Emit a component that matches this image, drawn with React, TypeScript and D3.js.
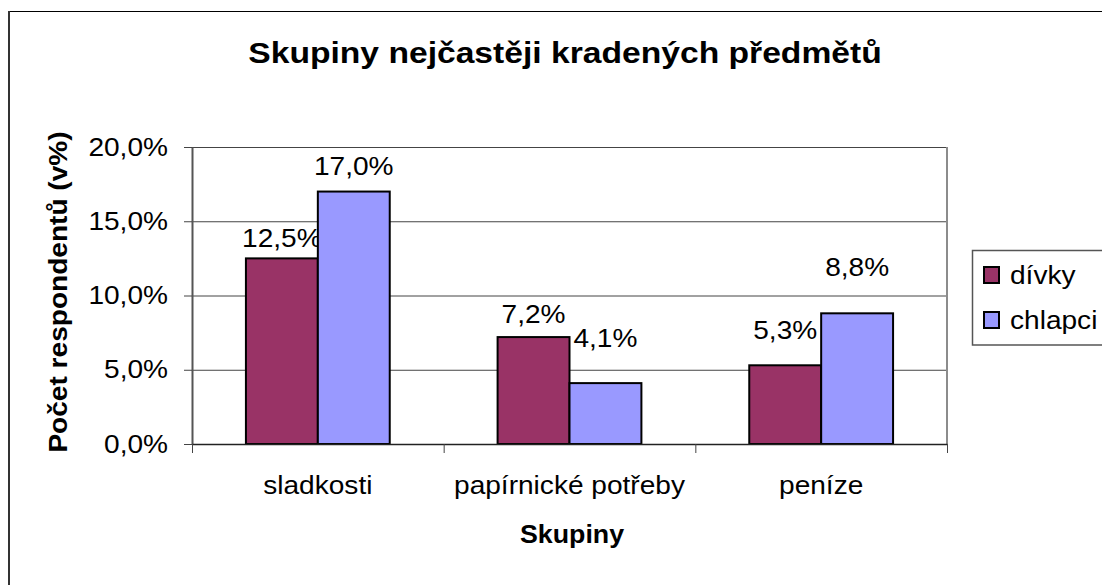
import React from "react";
import * as d3 from "d3";

// data (values in %)
const categories = ["sladkosti", "papírnické potřeby", "peníze"];
const seriesNames = ["dívky", "chlapci"];
const divky = [12.5, 7.2, 5.3];
const chlapci = [17.0, 4.1, 8.8];
const yTicks = [0, 5, 10, 15, 20];

const chartTitle = "Skupiny nejčastěji kradených předmětů";
const xTitle = "Skupiny";
const yTitle = "Počet respondentů (v%)";

const layout = { width: 1102, height: 585, left: 192, right: 947, top: 147, bottom: 444 };
const colors = ["#993366", "#9999ff"];
// data labels were nudged by hand in the original, lift above bar top per bar
const labelLift = [[11, 17], [14, 36], [26, 37]];
const font = "'Liberation Sans', Arial, Helvetica, sans-serif";
// the original text is drawn a bit wider than Arial, stretch along the text
const stretch = 1.08;

const czech = d3.formatLocale({ decimal: ",", thousands: " ", grouping: [3], currency: ["", " Kč"] });
const pct = (v: number) => czech.format(".1f")(v) + "%";

type Sel = d3.Selection<any, any, any, any>;

const label = (parent: Sel, x: number, y: number, str: string, opts: { size?: number; bold?: boolean; anchor?: string; rotate?: number; sx?: number } = {}) => {
    const rot = opts.rotate ? ` rotate(${opts.rotate})` : "";
    return parent.append("text")
        .attr("transform", `translate(${x},${y})${rot} scale(${opts.sx ?? stretch},1)`)
        .attr("text-anchor", opts.anchor ?? "start")
        .attr("font-size", opts.size ?? 26)
        .attr("font-weight", opts.bold ? "bold" : "normal")
        .attr("fill", "#000")
        .text(str);
};

class ClusteredBar extends React.Component {
    private svgRef = React.createRef<SVGSVGElement>();

    public render() {
        return <svg ref={this.svgRef} width={layout.width} height={layout.height}
            style={{ position: "absolute", left: 0, top: 0, background: "#fff" }} />;
    }

    public componentDidMount() {
        this.draw();
    }

    private draw = (): void => {
        const svg = d3.select(this.svgRef.current) as Sel;
        svg.selectAll("*").remove();
        svg.style("font-family", font);

        const values = [divky, chlapci];
        const x = d3.scaleBand<string>()
            .domain(categories)
            .range([layout.left, layout.right])
            .padding(0);
        const xInner = d3.scaleBand<string>()
            .domain(seriesNames)
            .range([0, x.bandwidth()])
            .paddingInner(0)
            .paddingOuter(0.75);
        const y = d3.scaleLinear()
            .domain([0, 20])
            .range([layout.bottom, layout.top]);

        // outer chart frame
        svg.append("rect")
            .attr("x", 9).attr("y", 11.5)
            .attr("width", 1200).attr("height", 700)
            .attr("fill", "#fff").attr("stroke", "#000").attr("stroke-width", 1);
        svg.append("line")
            .attr("x1", 9).attr("x2", 9).attr("y1", 11).attr("y2", layout.height)
            .attr("stroke", "#333").attr("stroke-width", 2);

        label(svg, 565, 63, chartTitle, { size: 29, bold: true, anchor: "middle", sx: 1.16 });

        // gridlines
        svg.append("g")
            .selectAll("line")
            .data(yTicks.slice(1))
            .enter()
            .append("line")
            .attr("x1", layout.left).attr("x2", layout.right)
            .attr("y1", d => y(d) + 0.5).attr("y2", d => y(d) + 0.5)
            .attr("stroke", "#444").attr("stroke-width", 1);

        svg.append("line")
            .attr("x1", layout.right).attr("x2", layout.right)
            .attr("y1", layout.top).attr("y2", layout.bottom)
            .attr("stroke", "#8c8c8c").attr("stroke-width", 2);

        // bars
        values.forEach((vals, si) => {
            const g = svg.append("g").style("fill", colors[si]);
            g.selectAll("rect")
                .data(vals)
                .enter()
                .append("rect")
                .attr("x", (d, i) => (x(categories[i]) ?? 0) + (xInner(seriesNames[si]) ?? 0))
                .attr("y", d => y(d))
                .attr("width", xInner.bandwidth())
                .attr("height", d => y(0) - y(d))
                .attr("stroke", "#000")
                .attr("stroke-width", 2);

            vals.forEach((v, i) => {
                const cx = (x(categories[i]) ?? 0) + (xInner(seriesNames[si]) ?? 0) + xInner.bandwidth() / 2;
                label(svg, cx, y(v) - labelLift[i][si], pct(v), { anchor: "middle" });
            });
        });

        // y axis
        const yAxis = svg.append("g")
            .attr("transform", `translate(${layout.left},0)`)
            .call(d3.axisLeft(y).tickValues(yTicks).tickSize(8).tickSizeOuter(0).tickFormat(() => ""));
        yAxis.select(".domain").attr("stroke", "#555").attr("stroke-width", 2);
        yAxis.selectAll(".tick line").attr("stroke", "#444");
        yTicks.forEach(t => label(svg, 168, y(t) + 8.5, pct(t), { anchor: "end" }));

        // x axis, ticks sit between categories
        const xEdges = d3.scaleLinear().domain([0, categories.length]).range([layout.left, layout.right]);
        const xAxis = svg.append("g")
            .attr("transform", `translate(0,${layout.bottom})`)
            .call(d3.axisBottom(xEdges).tickValues(d3.range(categories.length + 1)).tickSize(9).tickSizeOuter(0).tickFormat(() => ""));
        xAxis.select(".domain").attr("stroke", "#222").attr("stroke-width", 1.5);
        xAxis.selectAll(".tick line").attr("stroke", "#444");

        categories.forEach(c => label(svg, (x(c) ?? 0) + x.bandwidth() / 2, 494, c, { anchor: "middle" }));

        label(svg, 572, 543, xTitle, { bold: true, anchor: "middle", sx: 1.03 });
        label(svg, 67, 292, yTitle, { bold: true, anchor: "middle", rotate: -90 });

        // legend
        const legend = svg.append("g");
        legend.append("rect")
            .attr("x", 972.5).attr("y", 250.5)
            .attr("width", 200).attr("height", 94.5)
            .attr("fill", "#fff").attr("stroke", "#555").attr("stroke-width", 1.5);
        seriesNames.forEach((name, i) => {
            legend.append("rect")
                .attr("x", 984).attr("y", 267 + i * 45)
                .attr("width", 15).attr("height", 16)
                .attr("fill", colors[i])
                .attr("stroke", "#000").attr("stroke-width", 2);
            label(legend, 1010, 284 + i * 45, name);
        });
    }
}

export default function App() {
    return <ClusteredBar />;
}
